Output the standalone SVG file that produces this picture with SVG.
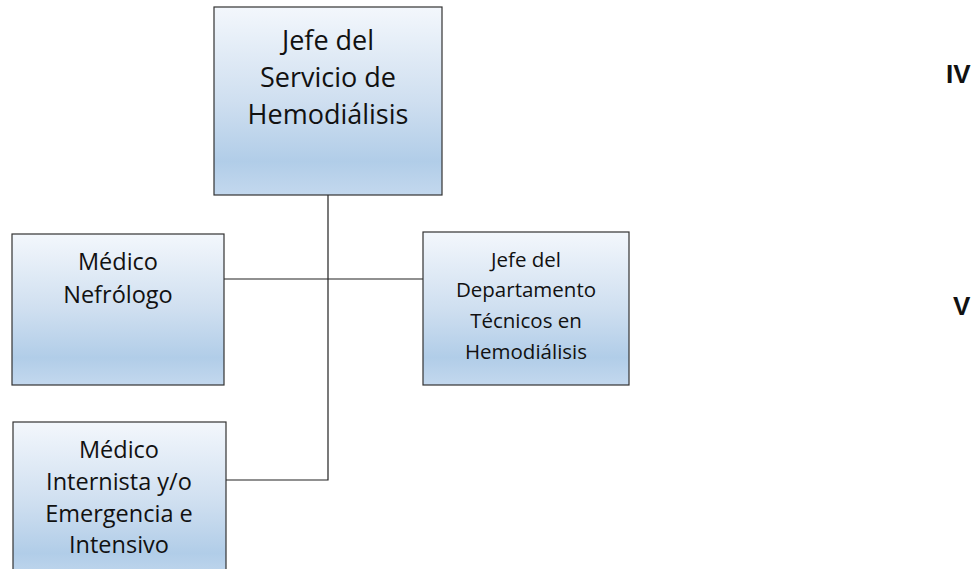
<svg xmlns="http://www.w3.org/2000/svg" width="980" height="569" viewBox="0 0 980 569">
<defs>
<linearGradient id="g" x1="0" y1="0" x2="0" y2="1">
<stop offset="0" stop-color="#f3f7fc"/>
<stop offset="0.5" stop-color="#cfdff0"/>
<stop offset="0.82" stop-color="#b1cde8"/>
<stop offset="1" stop-color="#c3d8ee"/>
</linearGradient>
<style>
.box{fill:url(#g);stroke:#333;stroke-width:1.2}
.t{font-family:"Open Sans","Liberation Sans",sans-serif;fill:#111;text-anchor:middle}
.c{fill:none;stroke:#222;stroke-width:1.2}
.r{font-family:"Liberation Sans",sans-serif;font-weight:bold;font-size:26px;fill:#111}
</style>
</defs>
<rect width="980" height="569" fill="#fff"/>
<g id="connectors">
<path class="c" d="M328,195 V480 H226"/>
<path class="c" d="M224,279 H423"/>
</g>
<g id="jefe-servicio">
<rect class="box" x="214" y="7" width="228" height="188"/>
<text class="t" font-size="27" x="328"><tspan x="328" y="50">Jefe del</tspan><tspan x="328" y="87">Servicio de</tspan><tspan x="328" y="124">Hemodiálisis</tspan></text>
</g>
<g id="medico-nefrologo">
<rect class="box" x="12" y="234" width="212" height="151"/>
<text class="t" font-size="23.5" x="118"><tspan x="118" y="270">Médico</tspan><tspan x="118" y="303">Nefrólogo</tspan></text>
</g>
<g id="jefe-departamento">
<rect class="box" x="423" y="232" width="206" height="153"/>
<text class="t" font-size="20.5" x="526"><tspan x="526" y="267">Jefe del</tspan><tspan x="526" y="297">Departamento</tspan><tspan x="526" y="328">Técnicos en</tspan><tspan x="526" y="359">Hemodiálisis</tspan></text>
</g>
<g id="medico-internista">
<rect class="box" x="13" y="422" width="213" height="160"/>
<text class="t" font-size="23.5" x="119"><tspan x="119" y="458">Médico</tspan><tspan x="119" y="490">Internista y/o</tspan><tspan x="119" y="522">Emergencia e</tspan><tspan x="119" y="553">Intensivo</tspan></text>
</g>
<g id="levels">
<text class="r" x="946" y="83">IV</text>
<text class="r" x="953" y="315">V</text>
</g>
</svg>
